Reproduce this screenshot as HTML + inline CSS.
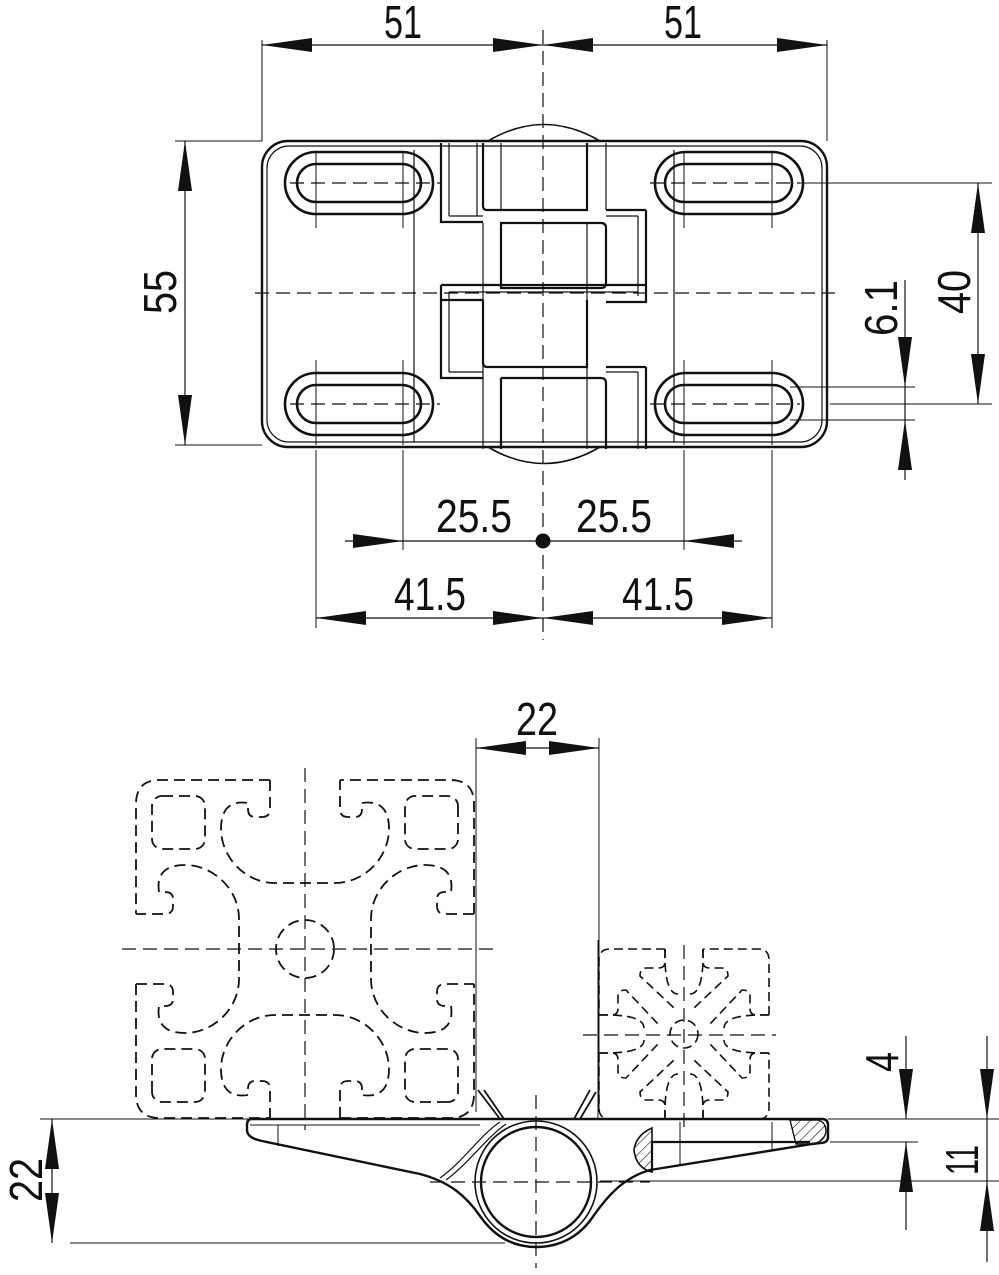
<!DOCTYPE html>
<html><head><meta charset="utf-8"><style>
html,body{margin:0;padding:0;background:#fff;}
svg{display:block;}
text{font-family:"Liberation Sans Narrow","Liberation Sans",sans-serif;font-size:46px;fill:#111;}
</style></head><body>
<svg width="999" height="1275" viewBox="0 0 999 1275" xmlns="http://www.w3.org/2000/svg">
<defs>
<marker id="a" markerUnits="userSpaceOnUse" markerWidth="60" markerHeight="20" refX="50" refY="10" orient="auto-start-reverse">
<path d="M0,3 L50,10 L0,17 z" fill="#111"/>
</marker>
<pattern id="h" patternUnits="userSpaceOnUse" width="7" height="7" patternTransform="rotate(45)">
<line x1="0" y1="0" x2="0" y2="7" stroke="#111" stroke-width="1.2"/>
</pattern>
</defs>

<g stroke="#111" fill="none">
<g stroke-width="1">
<line x1="262" y1="40" x2="262" y2="141"/>
<line x1="827" y1="40" x2="827" y2="141"/>
<line x1="175" y1="141" x2="262" y2="141"/>
<line x1="175" y1="445" x2="262" y2="445"/>
<line x1="800" y1="183" x2="992" y2="183"/>
<line x1="830" y1="404" x2="992" y2="404"/>
<line x1="790" y1="387" x2="915" y2="387"/>
<line x1="790" y1="420" x2="915" y2="420"/>
<line x1="316" y1="450" x2="316" y2="628"/>
<line x1="403" y1="450" x2="403" y2="550"/>
<line x1="684" y1="450" x2="684" y2="550"/>
<line x1="772" y1="450" x2="772" y2="628"/>
<line x1="316" y1="152" x2="316" y2="228"/><line x1="403" y1="152" x2="403" y2="228"/>
<line x1="684" y1="152" x2="684" y2="228"/><line x1="772" y1="152" x2="772" y2="228"/>
<line x1="316" y1="360" x2="316" y2="445"/><line x1="403" y1="360" x2="403" y2="445"/>
<line x1="684" y1="360" x2="684" y2="445"/><line x1="772" y1="360" x2="772" y2="445"/>
</g>
<g stroke-width="1.2">
<line x1="262" y1="45" x2="543" y2="45" marker-start="url(#a)" marker-end="url(#a)"/>
<line x1="543" y1="45" x2="827" y2="45" marker-start="url(#a)" marker-end="url(#a)"/>
<line x1="185" y1="141" x2="185" y2="445" marker-start="url(#a)" marker-end="url(#a)"/>
<line x1="978" y1="183" x2="978" y2="404" marker-start="url(#a)" marker-end="url(#a)"/>
<line x1="905" y1="280" x2="905" y2="387" marker-end="url(#a)"/>
<line x1="905" y1="480" x2="905" y2="420" marker-end="url(#a)"/>
<line x1="905" y1="387" x2="905" y2="420"/>
<line x1="345" y1="541" x2="403" y2="541" marker-end="url(#a)"/>
<line x1="742" y1="541" x2="684" y2="541" marker-end="url(#a)"/>
<line x1="403" y1="541" x2="684" y2="541"/>
<line x1="316" y1="618" x2="543" y2="618" marker-start="url(#a)" marker-end="url(#a)"/>
<line x1="543" y1="618" x2="772" y2="618" marker-start="url(#a)" marker-end="url(#a)"/>
</g>
<circle cx="543" cy="541" r="7" fill="#111"/>

<g stroke-width="1.2" stroke-dasharray="14,7">
<line x1="543" y1="30" x2="543" y2="640"/>
<line x1="255" y1="293" x2="835" y2="293"/>
<line x1="290" y1="183" x2="440" y2="183"/><line x1="650" y1="183" x2="800" y2="183"/>
<line x1="290" y1="404" x2="440" y2="404"/><line x1="650" y1="404" x2="800" y2="404"/>
</g>

<rect x="262" y="141" width="565" height="306" rx="26" stroke-width="2.4"/>
<rect x="267" y="146" width="555" height="296" rx="22" stroke-width="1.2"/>
<line x1="414" y1="150" x2="414" y2="442" stroke-width="1.2"/>
<line x1="674" y1="150" x2="674" y2="442" stroke-width="1.2"/>
<g stroke-width="2.6">
<rect x="285" y="152" width="148" height="62" rx="31"/>
<rect x="297" y="164" width="124" height="38" rx="19"/>
<rect x="655" y="152" width="148" height="62" rx="31"/>
<rect x="665" y="164" width="127" height="38" rx="19"/>
<rect x="285" y="373" width="148" height="62" rx="31"/>
<rect x="297" y="385" width="124" height="38" rx="19"/>
<rect x="655" y="373" width="148" height="62" rx="31"/>
<rect x="665" y="385" width="127" height="38" rx="19"/>
</g>
<path d="M488,141 Q544,108 600,141" stroke-width="1.6"/>
<path d="M488,447 Q544,480 600,447" stroke-width="1.6"/>
<g stroke-width="2.2">
<path d="M483,143 L483,206 Q483,210 487,210 L587,210 L587,143"/>
<path d="M501,223 L601,223 Q606,223 606,228 L606,283 Q606,288 601,288 L501,288 Z"/>
<path d="M483,300 L483,362 Q483,367 487,367 L587,367 L587,300"/>
<path d="M501,378 L601,378 Q606,378 606,383 L606,449 M501,378 L501,449"/>
<path d="M441,143 L441,222 L483,222 M441,285 L441,378 L483,378 M441,285 L646,285 M441,300 L483,300"/>
<path d="M646,210 L646,302 L606,302 M606,210 L646,210 M646,367 L646,449 M606,367 L646,367"/>
</g>
<g stroke-width="1.2">
<line x1="449" y1="143" x2="449" y2="216"/><line x1="449" y1="292" x2="449" y2="372"/>
<line x1="477" y1="143" x2="477" y2="216"/>
<line x1="638" y1="216" x2="638" y2="296"/><line x1="638" y1="372" x2="638" y2="449"/>
<line x1="483" y1="223" x2="483" y2="449"/><line x1="606" y1="143" x2="606" y2="210"/>
<line x1="587" y1="223" x2="587" y2="449"/><line x1="501" y1="143" x2="501" y2="210"/>
<line x1="449" y1="216" x2="483" y2="216"/><line x1="606" y1="216" x2="638" y2="216"/>
<line x1="449" y1="292" x2="638" y2="292"/><line x1="449" y1="372" x2="483" y2="372"/>
<line x1="606" y1="372" x2="638" y2="372"/>
</g>

<g stroke-width="1">
<line x1="476" y1="738" x2="476" y2="1112"/>
<line x1="599" y1="738" x2="599" y2="1112"/>
<line x1="40" y1="1119" x2="250" y2="1119"/>
<line x1="70" y1="1243" x2="505" y2="1243"/>
<line x1="828" y1="1119" x2="999" y2="1119"/>
<line x1="830" y1="1142" x2="918" y2="1142"/>
<line x1="600" y1="1181" x2="999" y2="1181"/>
</g>
<g stroke-width="1.2">
<line x1="476" y1="748" x2="599" y2="748" marker-start="url(#a)" marker-end="url(#a)"/>
<line x1="52" y1="1119" x2="52" y2="1243" marker-start="url(#a)" marker-end="url(#a)"/>
<line x1="906" y1="1036" x2="906" y2="1119" marker-end="url(#a)"/>
<line x1="906" y1="1230" x2="906" y2="1142" marker-end="url(#a)"/>
<line x1="987" y1="1036" x2="987" y2="1119" marker-end="url(#a)"/>
<line x1="987" y1="1262" x2="987" y2="1181" marker-end="url(#a)"/>
<line x1="987" y1="1119" x2="987" y2="1181"/>
</g>

<g stroke-width="1.8" stroke-dasharray="11,6">
<g transform="translate(305,949)">
<g id="q">
<path d="M-35,-169 L-35,-140 Q-35,-132 -43,-132 L-50,-132 Q-57,-132 -57,-140 L-57,-146 Q-84,-150 -84,-120 C-84,-92 -60,-66 -30,-66 L30,-66 C60,-66 84,-92 84,-120 Q84,-150 57,-146 L57,-140 Q57,-132 50,-132 L43,-132 Q35,-132 35,-140 L35,-169"/>
<path d="M-35,-169 L-145,-169 Q-169,-169 -169,-145 L-169,-35"/>
<rect x="-153" y="-153" width="53" height="53" rx="10"/>
</g>
<use href="#q" transform="rotate(90)"/>
<use href="#q" transform="rotate(180)"/>
<use href="#q" transform="rotate(270)"/>
<circle r="29"/>
</g>
</g>
<g stroke-width="1.2" stroke-dasharray="14,7">
<line x1="305" y1="768" x2="305" y2="1130"/>
<line x1="122" y1="949" x2="495" y2="949"/>
<line x1="684" y1="945" x2="684" y2="1128"/>
<line x1="583" y1="1035" x2="776" y2="1035"/>
<line x1="536" y1="1095" x2="536" y2="1268"/>
<line x1="430" y1="1182" x2="650" y2="1182"/>
</g>

<g stroke-width="1.6" stroke-dasharray="9,5">
<g transform="translate(684,1034)">
<g id="s">
<path d="M-19,-85 L-74,-85 Q-85,-85 -85,-74 L-85,-19"/>
<path d="M-19,-85 L-19,-72 Q-19,-66 -26,-66 L-38,-66 Q-44,-66 -44,-58 L-10,-26"/>
<path d="M-85,-19 L-72,-19 Q-66,-19 -66,-26 L-66,-38 Q-66,-44 -58,-44 L-26,-10"/>
<path d="M-19,-85 Q-20,-40 -6,-40 M-85,-19 Q-40,-20 -40,-6"/>
</g>
<use href="#s" transform="rotate(90)"/>
<use href="#s" transform="rotate(180)"/>
<use href="#s" transform="rotate(270)"/>
<circle r="14"/>
</g>
</g>
<line x1="598" y1="940" x2="598" y2="1119" stroke-width="1"/>

<path d="M478,1090 L500,1119 M484,1090 L504,1119 M590,1090 L574,1119 M596,1092 L580,1119" stroke-width="1.8"/>
<path d="M252,1119 L822,1119 Q828,1119 828,1125 L828,1137 Q828,1143 820,1143 L812,1144 L650,1170 C622,1178 606,1198 592,1218 C578,1238 558,1247 536,1247 C512,1247 494,1236 480,1216 C466,1196 450,1182 420,1174 L262,1141 Q247,1138 247,1130 L247,1125 Q247,1119 252,1119 Z" stroke-width="2.4"/>
<line x1="250" y1="1125" x2="480" y2="1125" stroke-width="1"/>
<line x1="278" y1="1125" x2="278" y2="1146" stroke-width="1"/>
<circle cx="536" cy="1182" r="55" stroke-width="2.4"/>
<circle cx="536" cy="1182" r="61" stroke-width="1.6"/>
<path d="M440,1178 C465,1160 480,1135 500,1122 M446,1180 C470,1162 486,1138 506,1124" stroke-width="1.2"/>
<path d="M652,1128 Q636,1135 634,1150 Q636,1168 652,1172 Z" fill="url(#h)" stroke-width="1.6"/>
<path d="M790,1120 L818,1120 Q826,1122 826,1132 Q824,1142 812,1144 L796,1144 Z" fill="url(#h)" stroke-width="1.4"/>
<path d="M652,1172 L652,1142 L810,1142" stroke-width="2.2"/>
<line x1="680" y1="1122" x2="680" y2="1165" stroke-width="1"/>
<line x1="772" y1="1122" x2="772" y2="1150" stroke-width="1"/>
</g>

<text x="403" y="38" text-anchor="middle" textLength="38" lengthAdjust="spacingAndGlyphs">51</text>
<text x="683" y="38" text-anchor="middle" textLength="38" lengthAdjust="spacingAndGlyphs">51</text>
<text transform="translate(176,292) rotate(-90)" text-anchor="middle" textLength="44" lengthAdjust="spacingAndGlyphs">55</text>
<text transform="translate(970,292) rotate(-90)" text-anchor="middle" textLength="44" lengthAdjust="spacingAndGlyphs">40</text>
<text transform="translate(897,308) rotate(-90)" text-anchor="middle" textLength="56" lengthAdjust="spacingAndGlyphs">6.1</text>
<text x="474" y="532" text-anchor="middle" textLength="76" lengthAdjust="spacingAndGlyphs">25.5</text>
<text x="614" y="532" text-anchor="middle" textLength="76" lengthAdjust="spacingAndGlyphs">25.5</text>
<text x="430" y="610" text-anchor="middle" textLength="72" lengthAdjust="spacingAndGlyphs">41.5</text>
<text x="658" y="610" text-anchor="middle" textLength="72" lengthAdjust="spacingAndGlyphs">41.5</text>
<text x="537" y="735" text-anchor="middle" textLength="42" lengthAdjust="spacingAndGlyphs">22</text>
<text transform="translate(42,1180) rotate(-90)" text-anchor="middle" textLength="44" lengthAdjust="spacingAndGlyphs">22</text>
<text transform="translate(898,1062) rotate(-90)" text-anchor="middle" textLength="20" lengthAdjust="spacingAndGlyphs">4</text>
<text transform="translate(978,1160) rotate(-90)" text-anchor="middle" textLength="30" lengthAdjust="spacingAndGlyphs">11</text>
</svg>
</body></html>
